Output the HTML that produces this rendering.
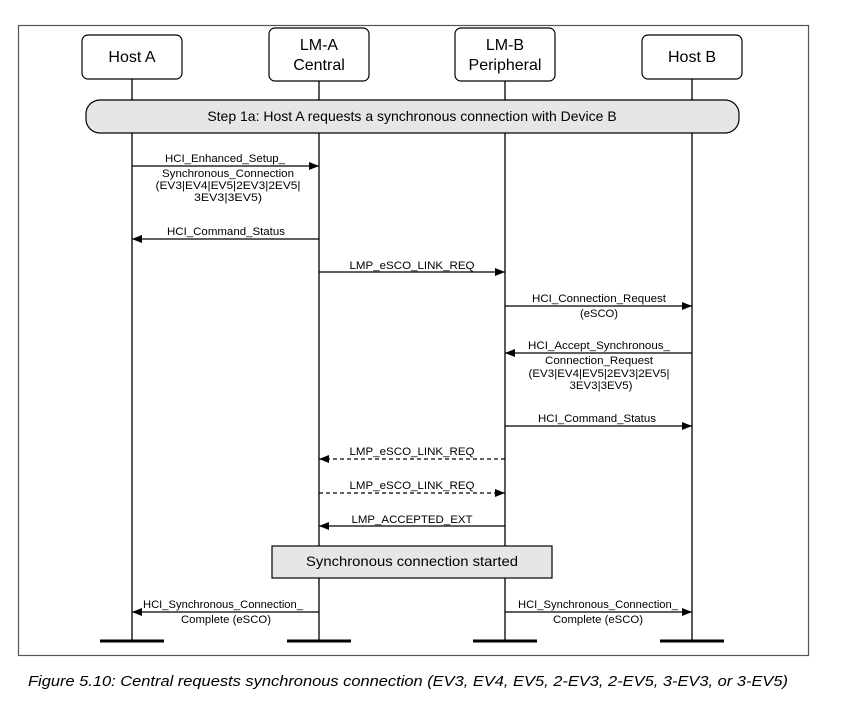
<!DOCTYPE html>
<html><head><meta charset="utf-8"><style>
html,body{margin:0;padding:0;background:#fff;}
svg{display:block;}
text{font-family:"Liberation Sans",sans-serif;fill:#000;}
</style></head><body>
<svg width="842" height="701" viewBox="0 0 842 701" xmlns="http://www.w3.org/2000/svg">
<defs>
<marker id="ah" markerWidth="10" markerHeight="8" refX="10" refY="4" orient="auto" markerUnits="userSpaceOnUse">
<path d="M0,0 L10,4 L0,8 z" fill="#000"/></marker>
</defs>
<rect x="18.5" y="25.5" width="790" height="630" fill="none" stroke="#555" stroke-width="1.2"/>
<!-- lifelines -->
<g stroke="#000" stroke-width="1.3">
<line x1="132" y1="79" x2="132" y2="640"/>
<line x1="319" y1="81" x2="319" y2="640"/>
<line x1="505" y1="81" x2="505" y2="640"/>
<line x1="692" y1="79" x2="692" y2="640"/>
</g>
<g stroke="#000" stroke-width="3">
<line x1="100" y1="641" x2="164" y2="641"/>
<line x1="287" y1="641" x2="351" y2="641"/>
<line x1="473" y1="641" x2="537" y2="641"/>
<line x1="660" y1="641" x2="724" y2="641"/>
</g>
<!-- header boxes -->
<g fill="#fff" stroke="#000" stroke-width="1.2">
<rect x="82" y="35" width="100" height="44" rx="6"/>
<rect x="269" y="28" width="100" height="53" rx="6"/>
<rect x="455" y="28" width="100" height="53" rx="6"/>
<rect x="642" y="35" width="100" height="44" rx="6"/>
</g>
<g font-size="16" text-anchor="middle">
<text x="132" y="62">Host A</text>
<text x="319" y="50">LM-A</text>
<text x="319" y="70">Central</text>
<text x="505" y="50">LM-B</text>
<text x="505" y="70">Peripheral</text>
<text x="692" y="62">Host B</text>
</g>
<rect x="86" y="100" width="653" height="33" rx="14" fill="#e6e6e6" stroke="#000" stroke-width="1.2"/>
<text x="412" y="121" font-size="14" text-anchor="middle">Step 1a:  Host A requests a synchronous connection with Device B</text>
<!-- arrows -->
<g stroke="#000" stroke-width="1.3" marker-end="url(#ah)">
<line x1="132" y1="166" x2="319" y2="166"/>
<line x1="319" y1="239" x2="132" y2="239"/>
<line x1="319" y1="272" x2="505" y2="272"/>
<line x1="505" y1="306" x2="692" y2="306"/>
<line x1="692" y1="353" x2="505" y2="353"/>
<line x1="505" y1="426" x2="692" y2="426"/>
<line x1="505" y1="459" x2="319" y2="459" stroke-dasharray="4,3"/>
<line x1="319" y1="493" x2="505" y2="493" stroke-dasharray="4,3"/>
<line x1="505" y1="526" x2="319" y2="526"/>
<line x1="319" y1="612" x2="132" y2="612"/>
<line x1="505" y1="612" x2="692" y2="612"/>
</g>
<g font-size="11" text-anchor="middle">
<text x="225" y="162" textLength="120" lengthAdjust="spacingAndGlyphs">HCI_Enhanced_Setup_</text>
<text x="228" y="177" textLength="132" lengthAdjust="spacingAndGlyphs">Synchronous_Connection</text>
<text x="228" y="189" textLength="145" lengthAdjust="spacingAndGlyphs">(EV3|EV4|EV5|2EV3|2EV5|</text>
<text x="228" y="201" textLength="68" lengthAdjust="spacingAndGlyphs">3EV3|3EV5)</text>
<text x="226" y="235" textLength="118" lengthAdjust="spacingAndGlyphs">HCI_Command_Status</text>
<text x="412" y="269" textLength="125" lengthAdjust="spacingAndGlyphs">LMP_eSCO_LINK_REQ</text>
<text x="599" y="302" textLength="134" lengthAdjust="spacingAndGlyphs">HCI_Connection_Request</text>
<text x="599" y="317" textLength="38" lengthAdjust="spacingAndGlyphs">(eSCO)</text>
<text x="599" y="349" textLength="142" lengthAdjust="spacingAndGlyphs">HCI_Accept_Synchronous_</text>
<text x="599" y="364" textLength="108" lengthAdjust="spacingAndGlyphs">Connection_Request</text>
<text x="599" y="377" textLength="141" lengthAdjust="spacingAndGlyphs">(EV3|EV4|EV5|2EV3|2EV5|</text>
<text x="601" y="389" textLength="63" lengthAdjust="spacingAndGlyphs">3EV3|3EV5)</text>
<text x="597" y="422" textLength="118" lengthAdjust="spacingAndGlyphs">HCI_Command_Status</text>
<text x="412" y="455" textLength="125" lengthAdjust="spacingAndGlyphs">LMP_eSCO_LINK_REQ</text>
<text x="412" y="489" textLength="125" lengthAdjust="spacingAndGlyphs">LMP_eSCO_LINK_REQ</text>
<text x="412" y="523" textLength="121" lengthAdjust="spacingAndGlyphs">LMP_ACCEPTED_EXT</text>
<text x="223" y="608" textLength="160" lengthAdjust="spacingAndGlyphs">HCI_Synchronous_Connection_</text>
<text x="226" y="623" textLength="90" lengthAdjust="spacingAndGlyphs">Complete (eSCO)</text>
<text x="598" y="608" textLength="160" lengthAdjust="spacingAndGlyphs">HCI_Synchronous_Connection_</text>
<text x="598" y="623" textLength="90" lengthAdjust="spacingAndGlyphs">Complete (eSCO)</text>
</g>
<rect x="272" y="546" width="280" height="32" fill="#e6e6e6" stroke="#000" stroke-width="1.2"/>
<text x="412" y="566" font-size="14" text-anchor="middle" textLength="212" lengthAdjust="spacingAndGlyphs">Synchronous connection started</text>
<text x="28" y="686" font-size="15" font-style="italic" textLength="760" lengthAdjust="spacingAndGlyphs">Figure 5.10: Central requests synchronous connection (EV3, EV4, EV5, 2-EV3, 2-EV5, 3-EV3, or 3-EV5)</text>
</svg>
</body></html>
